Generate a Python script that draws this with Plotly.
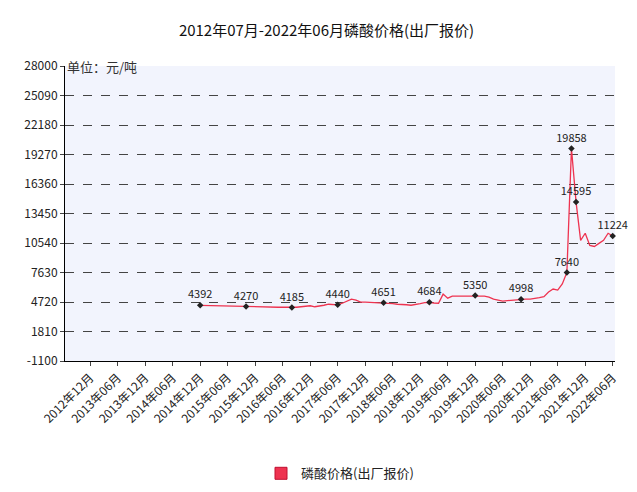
import plotly.graph_objects as go

months = [f"{y}-{m:02d}" for y in range(2012, 2023) for m in range(1, 13)]
months = months[6:6+120]  # 2012-07 .. 2022-06
tick_months = [f"{y}-{m:02d}" for y in range(2012, 2023) for m in (6, 12)][1:-1]
tick_labels = [f"{t[:4]}年{t[5:]}月" for t in tick_months]

# monthly prices from 2014-12 to 2022-06
values = [4392, 4380, 4330, 4300, 4290, 4280, 4280, 4280, 4275, 4270,
          4270, 4260, 4250, 4240, 4230, 4220, 4210, 4200, 4200, 4190,
          4185, 4200, 4250, 4300, 4350, 4250, 4300, 4400, 4500, 4450,
          4440, 4600, 4800, 5000, 4900, 4700, 4700, 4680, 4660, 4650,
          4651, 4600, 4550, 4500, 4500, 4450, 4400, 4450, 4550, 4650,
          4684, 4620, 4600, 5500, 5100, 5300, 5300, 5350, 5300, 5350,
          5350, 5300, 5300, 5200, 5000, 4900, 4800, 4850, 4900, 4950,
          4998, 5000, 5000, 5050, 5150, 5250, 5700, 6000, 5900, 6500,
          7640, 19858, 14595, 10800, 11500, 10300, 10200, 10500, 10800, 11500,
          11224]
data_months = months[29:29+len(values)]

mark_idx = [0, 10, 20, 30, 40, 50, 60, 70, 80, 81, 82, 90]
mark_months = [data_months[i] for i in mark_idx]
mark_values = [values[i] for i in mark_idx]

y_ticks = [-1100, 1810, 4720, 7630, 10540, 13450, 16360, 19270, 22180, 25090, 28000]

fig = go.Figure()
fig.add_trace(go.Scatter(x=data_months, y=values, mode="lines",
                         line=dict(color="#ee3350", width=1.3), showlegend=False))
fig.add_trace(go.Scatter(x=mark_months, y=mark_values, mode="markers+text",
                         marker=dict(color="#222", size=5, symbol="diamond"),
                         text=[str(v) for v in mark_values], textposition="top center",
                         textfont=dict(size=11, color="#222"), showlegend=False,
                         cliponaxis=False))
fig.add_trace(go.Bar(x=[None], y=[None], name="磷酸价格(出厂报价)",
                     marker=dict(color="#ee3350", line=dict(color="#c01030", width=1))))
fig.update_layout(
    width=637, height=492, paper_bgcolor="white", plot_bgcolor="#f2f4fd",
    margin=dict(l=57, r=30, t=58, b=130),
    font=dict(family="Noto Sans CJK SC, DejaVu Sans", size=12, color="#222"),
    title=dict(text="2012年07月-2022年06月磷酸价格(出厂报价)", x=0.5, y=0.965,
               xanchor="center", font=dict(size=15, color="#111")),
    legend=dict(orientation="h", x=0.5, xanchor="center", y=-0.33, yanchor="top",
                font=dict(size=13)),
    showlegend=True,
)
fig.update_xaxes(type="category", categoryorder="array", categoryarray=months,
                 range=[-0.5, 119.5], tickmode="array", tickvals=tick_months,
                 ticktext=tick_labels, tickangle=-45, showgrid=False,
                 showline=True, linecolor="#000", ticks="outside", ticklen=4,
                 tickfont=dict(size=12))
fig.update_yaxes(range=[-1100, 28000], tickvals=y_ticks,
                 ticktext=[str(v) for v in y_ticks], showgrid=True,
                 gridcolor="#444", griddash="dash", gridwidth=1,
                 showline=True, linecolor="#000", ticks="outside", ticklen=4,
                 zeroline=False, tickfont=dict(size=12))
fig.add_annotation(text="单位：元/吨", xref="paper", yref="paper", x=0.0, y=1.0,
                   xanchor="left", yanchor="middle", showarrow=False,
                   font=dict(size=13, color="#333"))
fig.write_html("out.html")
